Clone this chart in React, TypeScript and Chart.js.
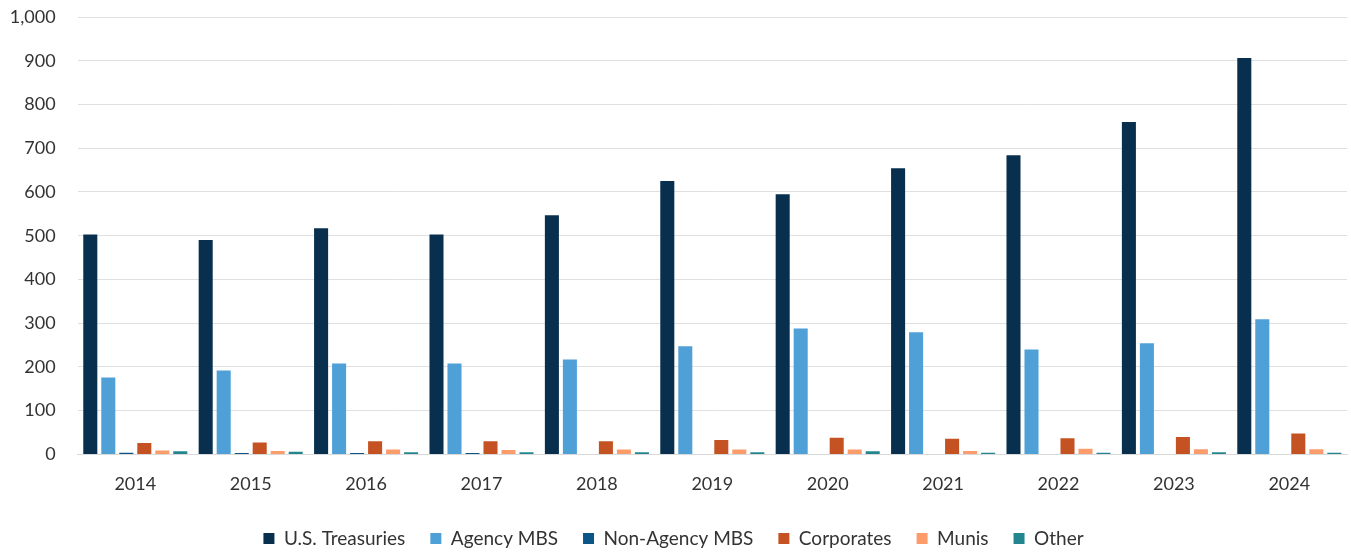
import React, { useEffect, useRef } from "react";
import { Chart, registerables } from "chart.js";

Chart.register(...registerables);

const years = ["2014", "2015", "2016", "2017", "2018", "2019", "2020", "2021", "2022", "2023", "2024"];
const treasuries = [503, 490, 517, 503, 547, 625, 595, 654, 684, 760, 906];
const agencyMbs = [176, 192, 208, 208, 217, 247, 288, 279, 240, 254, 309];
const nonAgencyMbs = [4, 3, 3, 3, 1, 0, 1, 0, 0, 0, 0];
const corporates = [26, 27, 30, 30, 30, 33, 38, 36, 37, 40, 48];
const munis = [9, 8, 11, 10, 11, 11, 11, 8, 13, 12, 12];
const other = [7, 6, 5, 5, 5, 5, 7, 4, 4, 5, 4];

const seriesNames = ["U.S. Treasuries", "Agency MBS", "Non-Agency MBS", "Corporates", "Munis", "Other"];
const seriesColors = ["#08304e", "#50a0d8", "#0b5687", "#c55222", "#fc9c6b", "#23868f"];

export default function App() {
  const ref = useRef<HTMLCanvasElement | null>(null);
  useEffect(() => {
    if (!ref.current) return;
    const values = [treasuries, agencyMbs, nonAgencyMbs, corporates, munis, other];
    const font = { family: "Lato", size: 18 };
    const chart = new Chart(ref.current, {
      type: "bar",
      data: {
        labels: years,
        datasets: seriesNames.map((name, i) => ({
          label: name,
          data: values[i],
          backgroundColor: seriesColors[i],
          borderWidth: 0,
          barPercentage: 0.78,
          categoryPercentage: 0.936,
        })),
      },
      options: {
        animation: false,
        responsive: true,
        maintainAspectRatio: false,
        layout: { padding: { top: 17, right: 4, left: 0, bottom: -4 } },
        plugins: {
          tooltip: { enabled: false },
          legend: {
            position: "bottom",
            labels: {
              font: { family: "Lato", size: 19 },
              color: "#333333",
              boxWidth: 11,
              boxHeight: 11,
              padding: 25,
            },
          },
        },
        scales: {
          x: {
            grid: { display: false, drawTicks: false },
            border: { display: true, color: "#d9d9d9" },
            ticks: { font, color: "#333333", padding: 19, maxRotation: 0 },
            afterFit: (scale: any) => {
              scale.height = scale.height - 10;
            },
          },
          y: {
            min: 0,
            max: 1000,
            afterFit: (scale: any) => {
              scale.width = 77.6;
            },
            grid: { color: "#e0e0e0", drawTicks: true, tickLength: 22, tickColor: "rgba(0,0,0,0)" },
            border: { display: false },
            ticks: { font, color: "#333333", stepSize: 100, padding: 0 },
          },
        },
      },
    });
    return () => chart.destroy();
  }, []);
  return (
    <div style={{ position: "fixed", left: 0, top: 0, width: 1351, height: 554, background: "#ffffff" }}>
      <canvas ref={ref} />
    </div>
  );
}
